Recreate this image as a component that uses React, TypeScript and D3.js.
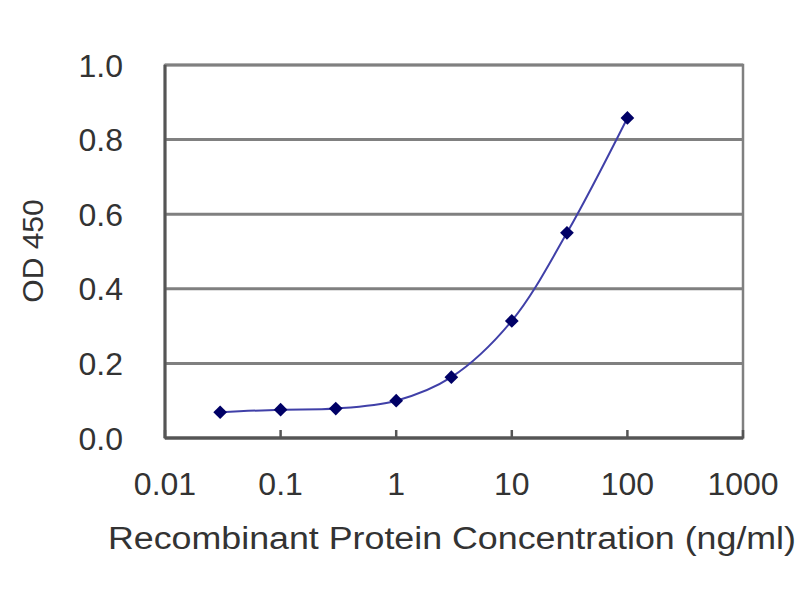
import * as d3 from "d3";

const concentrations = [0.03, 0.1, 0.3, 1, 3, 10, 30, 100];
const odValues = [0.069, 0.076, 0.079, 0.1, 0.163, 0.314, 0.55, 0.858];
const xTicks = [0.01, 0.1, 1, 10, 100, 1000];
const xTickLabels = ["0.01", "0.1", "1", "10", "100", "1000"];
const yTicks = [0, 0.2, 0.4, 0.6, 0.8, 1.0];

const W = 800;
const H = 600;
const margin = { left: 165, right: 57, top: 65, bottom: 162 };
const FONT = "Liberation Sans, Arial, sans-serif";

export default function App() {
  const x = d3
    .scaleLog()
    .domain([0.01, 1000])
    .range([margin.left, W - margin.right]);
  const y = d3
    .scaleLinear()
    .domain([0, 1])
    .range([H - margin.bottom, margin.top]);

  const line = d3
    .line<number>()
    .x((_, i) => x(concentrations[i]))
    .y((d) => y(d))
    .curve(d3.curveCatmullRom.alpha(0.5));

  const diamond = d3.symbol().type(d3.symbolDiamond2).size(120)() || "";

  const [x0, x1] = x.range();
  const [yb, yt] = y.range();

  return (
    <svg
      width={W}
      height={H}
      style={{ position: "absolute", left: 0, top: 0, background: "#fff" }}
      fontFamily={FONT}
    >
      {/* gridlines */}
      {yTicks.map((t) => (
        <line
          key={t}
          x1={x0}
          x2={x1}
          y1={y(t)}
          y2={y(t)}
          stroke="#808080"
          strokeWidth={3}
        />
      ))}
      {/* plot frame */}
      <rect
        x={x0}
        y={yt}
        width={x1 - x0}
        height={yb - yt}
        fill="none"
        stroke="#808080"
        strokeWidth={2.5}
      />
      {/* axes */}
      <line x1={x0} x2={x0} y1={yt} y2={yb} stroke="#555" strokeWidth={3} />
      <line x1={x0} x2={x1} y1={yb} y2={yb} stroke="#555" strokeWidth={3} />
      {xTicks.map((t) => (
        <line
          key={t}
          x1={x(t)}
          x2={x(t)}
          y1={yb}
          y2={yb - 8}
          stroke="#555"
          strokeWidth={2.5}
        />
      ))}

      {/* y tick labels */}
      {yTicks.map((t) => (
        <text
          key={t}
          x={x0 - 42}
          y={y(t)}
          dy="0.36em"
          textAnchor="end"
          fontSize={32}
          fill="#333"
        >
          {t.toFixed(1)}
        </text>
      ))}
      {/* x tick labels */}
      {xTicks.map((t, i) => (
        <text
          key={t}
          x={x(t)}
          y={yb + 57}
          textAnchor="middle"
          fontSize={32}
          fill="#333"
        >
          {xTickLabels[i]}
        </text>
      ))}

      {/* axis titles */}
      <text
        x={108}
        y={549}
        fontSize={31}
        fill="#333"
        textLength={688}
        lengthAdjust="spacingAndGlyphs"
      >
        Recombinant Protein Concentration (ng/ml)
      </text>
      <text
        transform={`translate(43,251) rotate(-90)`}
        textAnchor="middle"
        fontSize={30}
        fill="#333"
      >
        OD 450
      </text>

      {/* series */}
      <path d={line(odValues) || ""} fill="none" stroke="#4040a8" strokeWidth={2} />
      {odValues.map((v, i) => (
        <path
          key={i}
          d={diamond}
          transform={`translate(${x(concentrations[i])},${y(v)})`}
          fill="#000066"
        />
      ))}
    </svg>
  );
}
